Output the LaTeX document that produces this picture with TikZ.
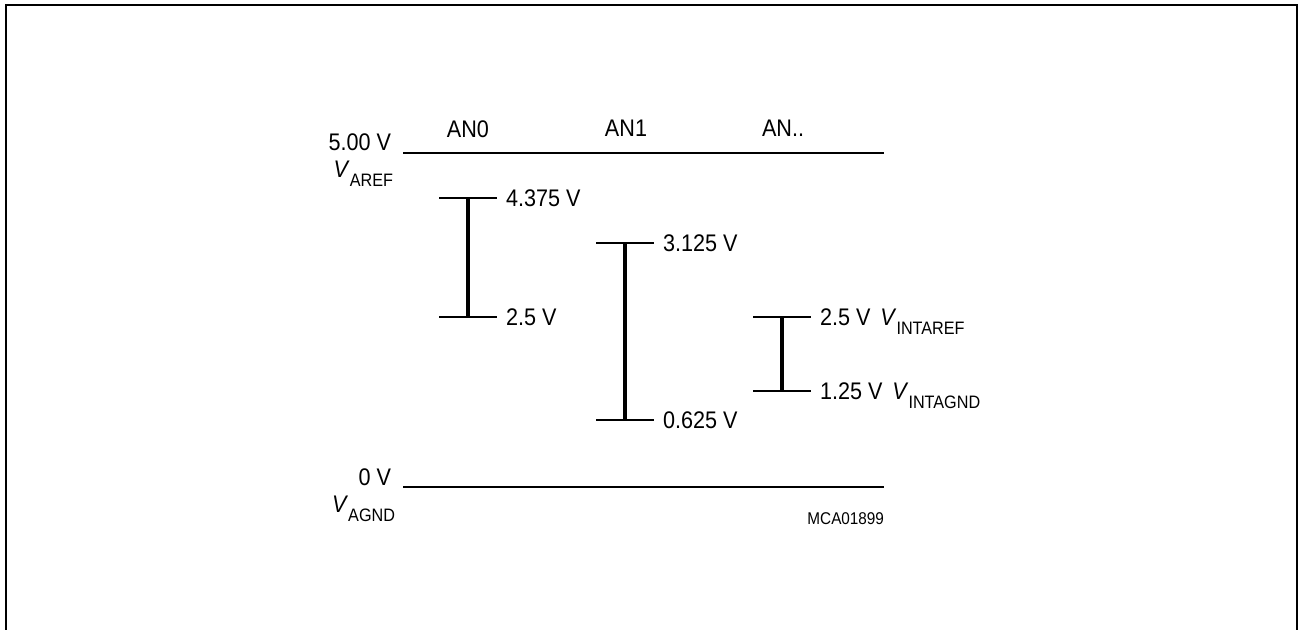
\documentclass[tikz,border=0pt]{standalone}
\usepackage{fontspec}
\setmainfont{Liberation Sans}[FakeStretch=0.9]
\usetikzlibrary{positioning}

\newcommand{\vsub}[1]{\textit{V}\raisebox{-4.5pt}{\fontsize{9}{10}\selectfont #1}}

\begin{document}
\begin{tikzpicture}[x=0.5pt,y=-0.5pt,line width=1pt,
 font=\fontsize{12}{14}\selectfont,
 lvl/.style={anchor=west,inner sep=4pt,text height=8.6pt,text depth=0pt},
 side/.style={anchor=base east,inner sep=0pt},
 head/.style={inner sep=0pt},
 bar/.style={line width=2pt}]
\useasboundingbox (0,0) rectangle (1300,630);
% frame, open at the bottom
\draw[line width=1.2pt] (6,640) -- (6,5) -- (1297,5) -- (1297,640);
% reference rails
\coordinate (ref0) at (403,153);
\coordinate (ref1) at (884,153);
\coordinate (gnd0) at (403,487);
\coordinate (gnd1) at (884,487);
\draw (ref0) -- (ref1);
\draw (gnd0) -- (gnd1);
\node[side] (vref) at (392,151) {5.00 V};
\node[side] (varef) at (394,178) {\vsub{AREF}};
\node[side] (vgnd) at (392,485) {0 V};
\node[side] (vagnd) at (396,512) {\vsub{AGND}};
% channel heads
\node[head] (an0) at (468,129) {AN0};
\node[head] (an1) at (626,128) {AN1};
\node[head] (ann) at (783,128) {AN..};
% AN0 range
\coordinate (a0hil) at (439,198);
\coordinate (a0hi) at (468,198);
\coordinate (a0lol) at (439,317);
\coordinate (a0lo) at (468,317);
\node[lvl] (a0hv) at (497,198) {4.375 V};
\node[lvl] (a0lv) at (497,317) {2.5 V};
\draw (a0hil) -- (a0hv.west);
\draw (a0lol) -- (a0lv.west);
\draw[bar] (a0hi) -- (a0lo);
% AN1 range
\coordinate (a1hil) at (596,243);
\coordinate (a1hi) at (625,243);
\coordinate (a1lol) at (596,420);
\coordinate (a1lo) at (625,420);
\node[lvl] (a1hv) at (654,243) {3.125 V};
\node[lvl] (a1lv) at (654,420) {0.625 V};
\draw (a1hil) -- (a1hv.west);
\draw (a1lol) -- (a1lv.west);
\draw[bar] (a1hi) -- (a1lo);
% AN.. range (internal reference)
\coordinate (anhil) at (753,317);
\coordinate (anhi) at (782,317);
\coordinate (anlol) at (753,391);
\coordinate (anlo) at (782,391);
\node[lvl] (anhv) at (811,317) {2.5 V\hspace{5pt}\vsub{INTAREF}};
\node[lvl] (anlv) at (811,391) {1.25 V\hspace{5pt}\vsub{INTAGND}};
\draw (anhil) -- (anhv.west);
\draw (anlol) -- (anlv.west);
\draw[bar] (anhi) -- (anlo);
% figure id
\node[side,font=\fontsize{8.5}{10}\selectfont] (mca) at (885,524) {MCA01899};
\end{tikzpicture}
\end{document}
